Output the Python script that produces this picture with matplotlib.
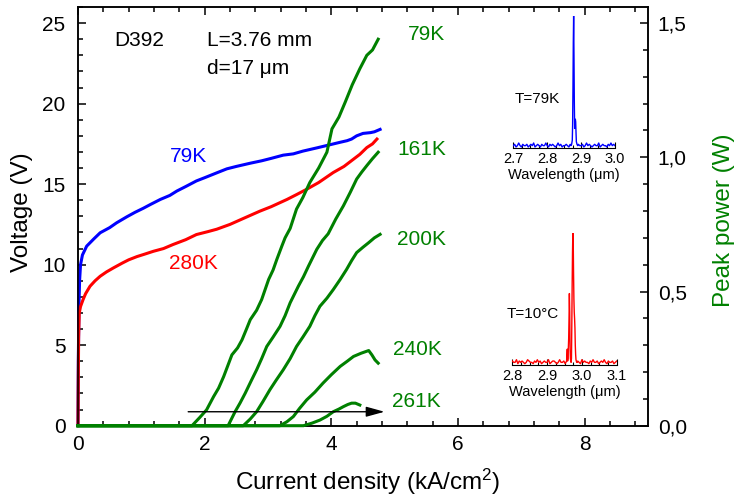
import numpy as np
import matplotlib
matplotlib.use("Agg")
import matplotlib.pyplot as plt
from matplotlib.ticker import MultipleLocator, FuncFormatter, FormatStrFormatter

plt.rcParams['font.family'] = ['Liberation Sans', 'DejaVu Sans']
plt.rcParams['mathtext.fontset'] = 'custom'
plt.rcParams['mathtext.rm'] = 'Liberation Sans'
plt.rcParams['mathtext.it'] = 'Liberation Sans:italic'

# ---- V-I curves (voltage, left axis) ----
J_79 = [0, 0.005, 0.015, 0.025, 0.04, 0.07, 0.137, 0.25, 0.35, 0.5, 0.61, 0.77, 0.9, 1.03, 1.15,
        1.30, 1.45, 1.56, 1.7, 1.87, 2.0, 2.19, 2.35, 2.5, 2.72, 2.9, 3.05, 3.24, 3.4, 3.55,
        3.77, 3.95, 4.14, 4.25, 4.32, 4.40, 4.5, 4.62, 4.68, 4.77]
V_79 = [0, 4.0, 7.5, 9.0, 10.0, 10.6, 11.15, 11.6, 11.98, 12.3, 12.6, 12.97, 13.25, 13.5, 13.75,
        14.05, 14.3, 14.57, 14.85, 15.2, 15.4, 15.7, 15.95, 16.1, 16.3, 16.45, 16.6, 16.8, 16.88, 17.05,
        17.25, 17.42, 17.6, 17.7, 17.8, 18.0, 18.15, 18.2, 18.25, 18.4]

J_280 = [0, 0.005, 0.01, 0.02, 0.04, 0.08, 0.12, 0.19, 0.27, 0.35, 0.45, 0.56, 0.7, 0.8, 0.93,
         1.05, 1.19, 1.35, 1.5, 1.7, 1.87, 2.05, 2.19, 2.4, 2.6, 2.87, 3.05, 3.3, 3.45, 3.61,
         3.8, 4.03, 4.2, 4.35, 4.45, 4.56, 4.65, 4.72]
V_280 = [0, 3.0, 5.5, 7.0, 7.4, 7.83, 8.2, 8.66, 9.0, 9.28, 9.55, 9.8, 10.1, 10.3, 10.5,
         10.65, 10.83, 11.0, 11.25, 11.55, 11.87, 12.05, 12.2, 12.5, 12.85, 13.32, 13.6, 14.05, 14.35, 14.68,
         15.1, 15.72, 16.1, 16.55, 16.85, 17.27, 17.5, 17.8]

# ---- L-I curves (peak power, right axis) ----
J_g79 = [0, 1.80, 1.92, 2.03, 2.14, 2.22, 2.30, 2.43, 2.52, 2.59, 2.66, 2.72, 2.82, 2.90, 3.01,
         3.08, 3.14, 3.22, 3.27, 3.35, 3.45, 3.55, 3.66, 3.80, 3.93, 4.01, 4.12, 4.22, 4.33, 4.45,
         4.56, 4.65, 4.74]
P_g79 = [0, 0, 0.03, 0.059, 0.108, 0.14, 0.183, 0.264, 0.29, 0.32, 0.36, 0.395, 0.43, 0.47, 0.545,
         0.58, 0.62, 0.67, 0.70, 0.735, 0.807, 0.85, 0.906, 0.96, 1.019, 1.106, 1.15, 1.206, 1.27, 1.33,
         1.38, 1.40, 1.44]

J_g161 = [0, 2.37, 2.48, 2.56, 2.64, 2.73, 2.82, 2.90, 2.98, 3.08, 3.19, 3.27, 3.35, 3.48, 3.56,
          3.64, 3.77, 3.86, 3.95, 4.07, 4.19, 4.30, 4.40, 4.48, 4.56, 4.65, 4.74]
P_g161 = [0, 0, 0.052, 0.085, 0.121, 0.165, 0.208, 0.25, 0.295, 0.33, 0.37, 0.41, 0.458, 0.52, 0.555,
          0.595, 0.657, 0.69, 0.715, 0.77, 0.819, 0.87, 0.919, 0.945, 0.969, 0.995, 1.019]

J_g200 = [0, 2.61, 2.72, 2.82, 2.92, 3.03, 3.13, 3.24, 3.35, 3.45, 3.55, 3.66, 3.74, 3.82, 3.93,
          4.03, 4.14, 4.24, 4.32, 4.40, 4.50, 4.59, 4.68, 4.77]
P_g200 = [0, 0, 0.025, 0.052, 0.09, 0.134, 0.17, 0.208, 0.25, 0.295, 0.33, 0.37, 0.41, 0.445, 0.475,
          0.507, 0.545, 0.582, 0.615, 0.645, 0.665, 0.682, 0.70, 0.713]

J_g240 = [0, 3.19, 3.30, 3.40, 3.50, 3.61, 3.74, 3.87, 4.00, 4.14, 4.25, 4.35, 4.47, 4.59, 4.64, 4.69, 4.74]
P_g240 = [0, 0, 0.015, 0.034, 0.065, 0.096, 0.125, 0.159, 0.19, 0.221, 0.24, 0.258, 0.27, 0.28, 0.264, 0.245, 0.233]

J_g261 = [0, 3.56, 3.70, 3.82, 3.93, 4.03, 4.12, 4.19, 4.26, 4.32, 4.38, 4.45]
P_g261 = [0, 0, 0.01, 0.021, 0.035, 0.052, 0.062, 0.071, 0.079, 0.084, 0.084, 0.077]

green_curves = [(J_g79, P_g79), (J_g161, P_g161), (J_g200, P_g200), (J_g240, P_g240), (J_g261, P_g261)]
green_labels = ["79K", "161K", "200K", "240K", "261K"]
green_label_pos = [(5.21, 24.27), (5.04, 17.17), (5.04, 11.56), (4.98, 4.71), (4.96, 1.49)]

# ---- emission spectra (insets), intensity in % of maximum ----
noise_79 = [2, 3, 1, 2, 4, 2, 1, 3, 2, 2, 3, 1, 2, 3, 2, 4, 1, 2, 3, 2, 1, 3, 2, 2, 4, 2, 1, 3, 2, 3,
            2, 1, 2, 4, 2, 3, 1, 2, 2, 3, 2, 1, 3, 2, 4, 2, 2, 1, 3, 2, 2, 3, 1, 2, 4, 2, 3, 2, 1, 2,
            3, 2, 2, 4, 1, 2, 3, 2, 2, 1, 3, 2, 4, 2, 3, 2]
peak_wl_79 = [2.870, 2.872, 2.874, 2.875, 2.876, 2.877, 2.878, 2.879, 2.880, 2.881, 2.882, 2.883,
              2.884, 2.885, 2.886, 2.888, 2.890]
peak_I_79 = [2, 3, 6, 18, 45, 80, 100, 70, 35, 15, 18, 22, 20, 12, 5, 3, 2]

noise_10C = [3, 2, 2, 4, 1, 3, 2, 3, 2, 1, 2, 4, 3, 2, 2, 1, 3, 2, 4, 2, 3, 1, 2, 3, 2, 2, 4, 1, 2, 3,
             3, 2, 1, 2, 4, 2, 2, 3, 1, 3, 2, 2, 4, 2, 1, 3, 2, 3, 2, 1, 4, 2, 3, 2, 2, 1, 3, 2, 4, 2,
             2, 3, 1, 2, 3, 2, 4, 2, 1, 3, 2, 2, 3, 1, 2, 3]
peak_wl_10C = [2.954, 2.956, 2.958, 2.959, 2.960, 2.962, 2.963, 2.964, 2.965, 2.966, 2.967, 2.968,
               2.969, 2.970, 2.971, 2.972, 2.973, 2.974, 2.975, 2.976, 2.977, 2.978, 2.979, 2.980,
               2.981, 2.982, 2.983, 2.985, 2.987]
peak_I_10C = [2, 3, 12, 3, 5, 20, 35, 54, 40, 12, 5, 3, 2, 5, 30, 60, 85, 100, 95, 70, 50, 40,
              35, 28, 15, 8, 4, 2, 2]


def spectrum(lo, hi, noise, pwl, pI):
    grid = np.linspace(lo, hi, len(noise))
    keep = (grid < min(pwl)) | (grid > max(pwl))
    wl = np.concatenate([grid[keep], pwl])
    I = np.concatenate([np.asarray(noise)[keep], pI])
    order = np.argsort(wl)
    return wl[order], I[order]


BLUE, RED, GREEN = '#0000ff', '#ff0000', '#008000'
TICK_FS, LABEL_FS, NOTE_FS, INSET_FS = 15, 17.5, 15, 10.5

fig = plt.figure(figsize=(7.37, 4.98), dpi=100)
ax = fig.add_axes([78 / 737, 1 - 425.7 / 498, 570 / 737, 418.7 / 498])
ax2 = ax.twinx()

ax.plot(J_79, V_79, color=BLUE, lw=2.2, clip_on=False, zorder=3)
ax.plot(J_280, V_280, color=RED, lw=2.2, clip_on=False, zorder=3)

for J, P in green_curves:
    ax2.plot(J, P, color=GREEN, lw=2.2, clip_on=False, zorder=3)

ax2.annotate('', xy=(4.84, 0.052), xytext=(1.74, 0.052),
             arrowprops=dict(arrowstyle='-|>,head_length=0.8,head_width=0.22',
                             color='black', lw=1.0, shrinkA=0, shrinkB=0, mutation_scale=14))

ax.set_xlim(0, 9)
ax.set_ylim(0, 26)
ax2.set_ylim(0, 26 * 0.06)

ax.xaxis.set_major_locator(MultipleLocator(2))
ax.xaxis.set_minor_locator(MultipleLocator(0.4))
ax.yaxis.set_major_locator(MultipleLocator(5))
ax.yaxis.set_minor_locator(MultipleLocator(1))
ax2.yaxis.set_major_locator(MultipleLocator(0.5))
ax2.yaxis.set_minor_locator(MultipleLocator(0.1))
ax2.yaxis.set_major_formatter(FuncFormatter(lambda v, p: f"{v:.1f}".replace('.', ',')))

for a in (ax, ax2):
    for s in a.spines.values():
        s.set_linewidth(1.1)
ax.tick_params(which='both', direction='in', top=True, right=False, width=1.1, labelsize=TICK_FS)
ax.tick_params(axis='x', which='major', pad=7)
ax.tick_params(axis='y', which='major', pad=9)
ax.tick_params(which='major', length=6)
ax.tick_params(which='minor', length=3.5)
ax2.tick_params(which='both', direction='in', width=1.1, labelsize=TICK_FS, pad=7)
ax2.tick_params(which='major', length=6)
ax2.tick_params(which='minor', length=3.5)

ax.set_xlabel('Current density (kA/cm$^{2}$)', fontsize=LABEL_FS)
ax.xaxis.set_label_coords(0.508, -0.099)
ax.set_ylabel('Voltage (V)', fontsize=LABEL_FS)
ax.yaxis.set_label_coords(-0.079, 0.509)
ax2.set_ylabel('Peak power (W)', fontsize=LABEL_FS, color=GREEN)
ax2.yaxis.set_label_coords(1.114, 0.49)

ax.text(0.963, 23.9, 'D392', fontsize=NOTE_FS, ha='center', va='center')
ax.text(2.04, 23.95, 'L=3.76 mm', fontsize=NOTE_FS, ha='left', va='center')
ax.text(2.04, 22.2, 'd=17 μm', fontsize=NOTE_FS, ha='left', va='center')
ax.text(1.75, 16.73, '79K', fontsize=NOTE_FS, color=BLUE, ha='center', va='center')
ax.text(1.83, 10.07, '280K', fontsize=NOTE_FS, color=RED, ha='center', va='center')
for lab, (x, y) in zip(green_labels, green_label_pos):
    ax.text(x, y, lab, fontsize=NOTE_FS, color=GREEN, ha='left', va='center')

# insets with the emission spectra
ins1 = fig.add_axes([513.3 / 737, 1 - 148.3 / 498, 101.7 / 737, 132.3 / 498])
ins2 = fig.add_axes([512.3 / 737, 1 - 365 / 498, 104.4 / 737, 132.3 / 498])
w1, s1 = spectrum(2.70, 3.00, noise_79, peak_wl_79, peak_I_79)
w2, s2 = spectrum(2.80, 3.10, noise_10C, peak_wl_10C, peak_I_10C)
ins1.plot(w1, s1, color=BLUE, lw=1.0)
ins2.plot(w2, s2, color=RED, lw=1.0)
ins1.set_xlim(2.70, 3.00)
ins2.set_xlim(2.80, 3.10)
for ins, lab, (tx, ty) in ((ins1, 'T=79K', (0.233, 0.373)), (ins2, 'T=10°C', (0.198, 0.385))):
    ins.set_ylim(0, 100)
    ins.set_facecolor('none')
    for side in ('left', 'right', 'top'):
        ins.spines[side].set_visible(False)
    ins.spines['bottom'].set_linewidth(0.8)
    ins.set_yticks([])
    ins.xaxis.set_major_locator(MultipleLocator(0.1))
    ins.xaxis.set_minor_locator(MultipleLocator(0.025))
    ins.xaxis.set_major_formatter(FormatStrFormatter('%.1f'))
    ins.tick_params(which='both', direction='in', labelsize=INSET_FS, pad=3, width=0.8)
    ins.tick_params(which='major', length=4)
    ins.tick_params(which='minor', length=2)
    ins.set_xlabel('Wavelength (μm)', fontsize=INSET_FS, labelpad=1)
    ins.text(tx, ty, lab, fontsize=11, transform=ins.transAxes, ha='center', va='center')

fig.savefig('out.png', dpi=100)
